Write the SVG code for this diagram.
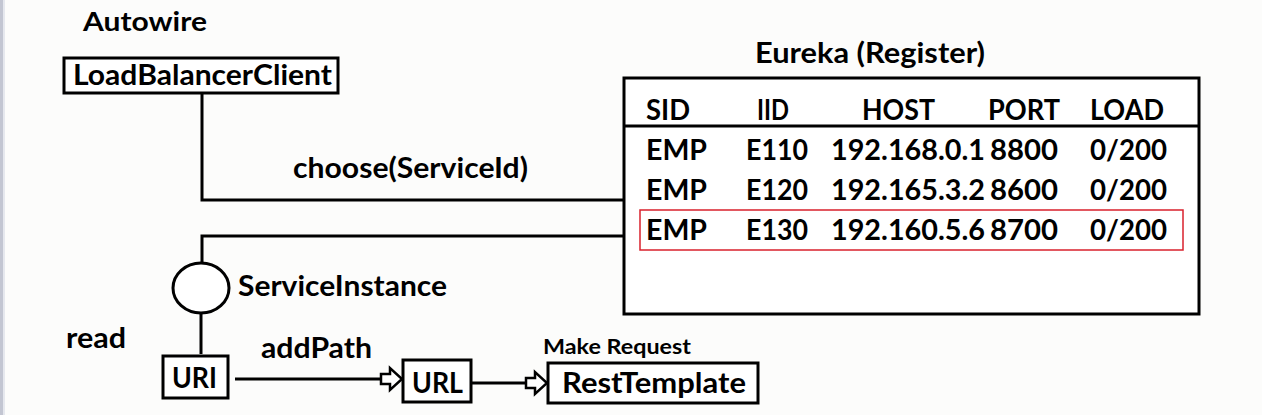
<svg xmlns="http://www.w3.org/2000/svg" width="1262" height="415" viewBox="0 0 1262 415">
<style>
text{font-family:Lato,"Liberation Sans",sans-serif;font-weight:700;fill:#000;}
.t{font-size:28px;}
.box{fill:#fff;stroke:#000;stroke-width:3;}
.ln{fill:none;stroke:#000;stroke-width:3;}
.ah{fill:#fff;stroke:#000;stroke-width:2.5;stroke-linejoin:miter;}
</style>
<rect width="1262" height="415" fill="#fcfcfb"/>
<rect x="0" y="0" width="3" height="415" fill="#c3c6d2"/>
<rect x="3" y="0" width="2" height="415" fill="#e6e8ee"/>

<g id="connectors">
  <path class="ln" d="M202,93 V200 H624"/>
  <path class="ln" d="M640,236 H202 V263"/>
  <path class="ln" d="M201,313 V354"/>
  <path class="ln" d="M235,379 H381"/>
  <path class="ah" d="M381,374 h9 v-6 l12,11 l-12,11 v-6 h-9 z"/>
  <path class="ln" d="M471,383 H526"/>
  <path class="ah" d="M526,378 h9 v-6 l12,11 l-12,11 v-6 h-9 z"/>
</g>

<g id="autowire-label">
  <text x="83" y="31" font-size="26" textLength="124" lengthAdjust="spacingAndGlyphs">Autowire</text>
</g>

<g id="loadbalancerclient">
  <rect class="box" x="64" y="58" width="274" height="35"/>
  <text class="t" x="73" y="85" textLength="259" lengthAdjust="spacingAndGlyphs">LoadBalancerClient</text>
</g>

<g id="choose-label">
  <text class="t" x="293" y="178" textLength="235" lengthAdjust="spacingAndGlyphs">choose(ServiceId)</text>
</g>

<g id="eureka">
  <text class="t" x="755" y="63" textLength="230" lengthAdjust="spacingAndGlyphs">Eureka (Register)</text>
  <rect class="box" x="624" y="78" width="575" height="236"/>
  <line class="ln" x1="624" y1="126" x2="1199" y2="126"/>
  <text class="t" x="646" y="120" textLength="44" lengthAdjust="spacingAndGlyphs">SID</text>
  <text class="t" x="757" y="120" textLength="32" lengthAdjust="spacingAndGlyphs">IID</text>
  <text class="t" x="862" y="120" textLength="73" lengthAdjust="spacingAndGlyphs">HOST</text>
  <text class="t" x="988" y="120" textLength="72" lengthAdjust="spacingAndGlyphs">PORT</text>
  <text class="t" x="1090" y="120" textLength="74" lengthAdjust="spacingAndGlyphs">LOAD</text>

  <text class="t" x="646" y="160" textLength="61" lengthAdjust="spacingAndGlyphs">EMP</text>
  <text class="t" x="746" y="160" textLength="62" lengthAdjust="spacingAndGlyphs">E110</text>
  <text class="t" x="831" y="160" textLength="154" lengthAdjust="spacingAndGlyphs">192.168.0.1</text>
  <text class="t" x="990" y="160" textLength="68" lengthAdjust="spacingAndGlyphs">8800</text>
  <text class="t" x="1090" y="160" textLength="77" lengthAdjust="spacingAndGlyphs">0/200</text>

  <text class="t" x="646" y="200" textLength="61" lengthAdjust="spacingAndGlyphs">EMP</text>
  <text class="t" x="746" y="200" textLength="62" lengthAdjust="spacingAndGlyphs">E120</text>
  <text class="t" x="831" y="200" textLength="154" lengthAdjust="spacingAndGlyphs">192.165.3.2</text>
  <text class="t" x="990" y="200" textLength="68" lengthAdjust="spacingAndGlyphs">8600</text>
  <text class="t" x="1090" y="200" textLength="77" lengthAdjust="spacingAndGlyphs">0/200</text>

  <rect x="640" y="210" width="543" height="40" fill="none" stroke="#d9202c" stroke-width="1.5"/>
  <text class="t" x="646" y="240" textLength="61" lengthAdjust="spacingAndGlyphs">EMP</text>
  <text class="t" x="746" y="240" textLength="62" lengthAdjust="spacingAndGlyphs">E130</text>
  <text class="t" x="831" y="240" textLength="154" lengthAdjust="spacingAndGlyphs">192.160.5.6</text>
  <text class="t" x="990" y="240" textLength="68" lengthAdjust="spacingAndGlyphs">8700</text>
  <text class="t" x="1090" y="240" textLength="77" lengthAdjust="spacingAndGlyphs">0/200</text>
</g>

<g id="serviceinstance">
  <ellipse class="box" cx="201" cy="288" rx="28" ry="25"/>
  <text class="t" x="238" y="296" textLength="209" lengthAdjust="spacingAndGlyphs">ServiceInstance</text>
</g>

<g id="read-label">
  <text class="t" x="66" y="348" textLength="60" lengthAdjust="spacingAndGlyphs">read</text>
</g>

<g id="addpath-label">
  <text class="t" x="261" y="358" textLength="111" lengthAdjust="spacingAndGlyphs">addPath</text>
</g>

<g id="uri">
  <rect class="box" x="163" y="356" width="65" height="42"/>
  <text class="t" x="172" y="388" textLength="45" lengthAdjust="spacingAndGlyphs">URI</text>
</g>

<g id="url">
  <rect class="box" x="403" y="360" width="68" height="42"/>
  <text class="t" x="412" y="393" textLength="51" lengthAdjust="spacingAndGlyphs">URL</text>
</g>

<g id="resttemplate">
  <text x="543" y="354" font-size="20" textLength="148" lengthAdjust="spacingAndGlyphs">Make Request</text>
  <rect class="box" x="548" y="363" width="210" height="40"/>
  <text class="t" x="562" y="393" textLength="184" lengthAdjust="spacingAndGlyphs">RestTemplate</text>
</g>
</svg>
